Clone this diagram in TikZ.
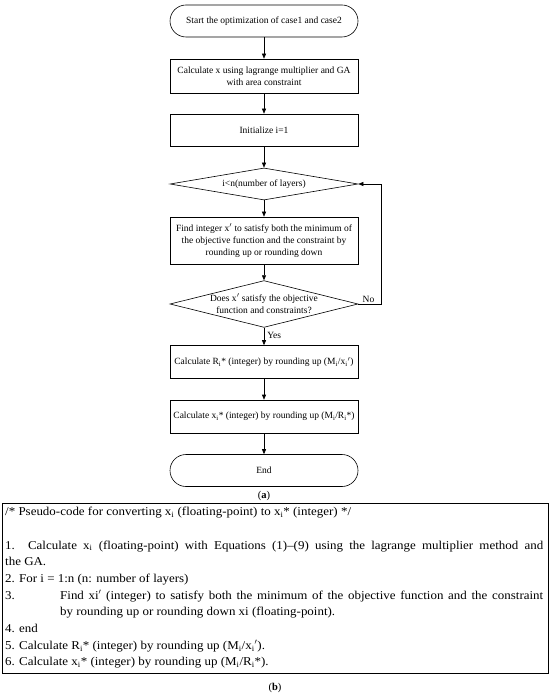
\documentclass[tikz,border=0pt]{standalone}
\usepackage{fontspec}
\setmainfont{Liberation Serif}
\newfontfamily\codefont{Liberation Serif}[FakeStretch=1.08,Ligatures=TeX]
\usetikzlibrary{shapes.geometric,arrows.meta}
\begin{document}
\begin{tikzpicture}[x=1pt,y=-1pt,
  box/.style={draw,line width=0.6pt,minimum width=188pt,inner sep=1pt,align=center,font=\fontsize{9.5}{12}\selectfont},
  term/.style={box,rounded corners=16pt},
  dia/.style={draw,line width=0.6pt,diamond,aspect=4,inner sep=0pt,minimum width=188pt,align=center,font=\fontsize{9.5}{12}\selectfont},
  arr/.style={-{Triangle[length=5pt,width=4pt]},line width=0.6pt},
  lbl/.style={font=\fontsize{9.5}{11}\selectfont,inner sep=1pt}]
\useasboundingbox (0,0) rectangle (550,700);
\node[term,minimum height=32pt] (start) at (264,21) {Start the optimization of case1 and case2};
\node[box,minimum height=34pt] (calc) at (264,76) {Calculate x using lagrange multiplier and GA\\with area constraint};
\node[box,minimum height=32pt] (init) at (264,130) {Initialize i=1};
\node[dia,minimum height=32pt] (d1) at (264,184) {i<n(number of layers)};
\node[box,minimum height=47pt] (find) at (264,240.5) {Find integer x$'$ to satisfy both the minimum of\\the objective function and the constraint by\\rounding up or rounding down};
\node[dia,minimum height=46pt] (d2) at (264,304) {Does x$'$ satisfy the objective\\function and constraints?};
\node[box,minimum height=33pt] (r) at (264,362) {Calculate R\textsubscript{i}* (integer) by rounding up (M\textsubscript{i}/x\textsubscript{i}$'$)};
\node[box,minimum height=33pt] (x) at (264,416.5) {Calculate x\textsubscript{i}* (integer) by rounding up (M\textsubscript{i}/R\textsubscript{i}*)};
\node[term,minimum height=32pt] (end) at (264,470.5) {End};
\node[lbl,font=\fontsize{10.5}{12}\selectfont] (la) at (264,496) {(\textbf{a})};
\draw[arr] (start) -- (calc);
\draw[arr] (calc) -- (init);
\draw[arr] (init) -- (d1);
\draw[arr] (d1) -- (find);
\draw[arr] (find) -- (d2);
\draw[arr] (d2) -- node[lbl,right,pos=0.45,xshift=2pt] (yes) {Yes} (r);
\draw[arr] (r) -- (x);
\draw[arr] (x) -- (end);
\coordinate (loop) at (381,304);
\draw[arr] (d2.east) -- node[lbl,above,pos=0.45] (no) {No} (loop) |- (d1.east);
\node[draw,line width=0.6pt,minimum width=546pt,minimum height=170pt,inner sep=0pt] (pb) at (275,588) {};
\node[anchor=north west,inner sep=0pt,text width=538pt,align=justify,font=\codefont\fontsize{12}{16.7}\selectfont] (code) at (5,507) {%
/* Pseudo-code for converting x\textsubscript{i} (floating-point) to x\textsubscript{i}* (integer) */\par
\vspace{16.7pt}
1. Calculate x\textsubscript{i} (floating-point) with Equations (1)–(9) using the lagrange multiplier method and\linebreak the GA.\par
2. For i = 1:n (n: number of layers)\par
\hangindent=55pt\hangafter=1\noindent\makebox[55pt][l]{3.}Find xi$'$ (integer) to satisfy both the minimum of the objective function and the constraint\linebreak by rounding up or rounding down xi (floating-point).\par
4. end\par
5. Calculate R\textsubscript{i}* (integer) by rounding up (M\textsubscript{i}/x\textsubscript{i}$'$).\par
6. Calculate x\textsubscript{i}* (integer) by rounding up (M\textsubscript{i}/R\textsubscript{i}*).\par};
\node[lbl,font=\fontsize{10.5}{12}\selectfont] (lb) at (275,688) {(\textbf{b})};
\end{tikzpicture}
\end{document}
